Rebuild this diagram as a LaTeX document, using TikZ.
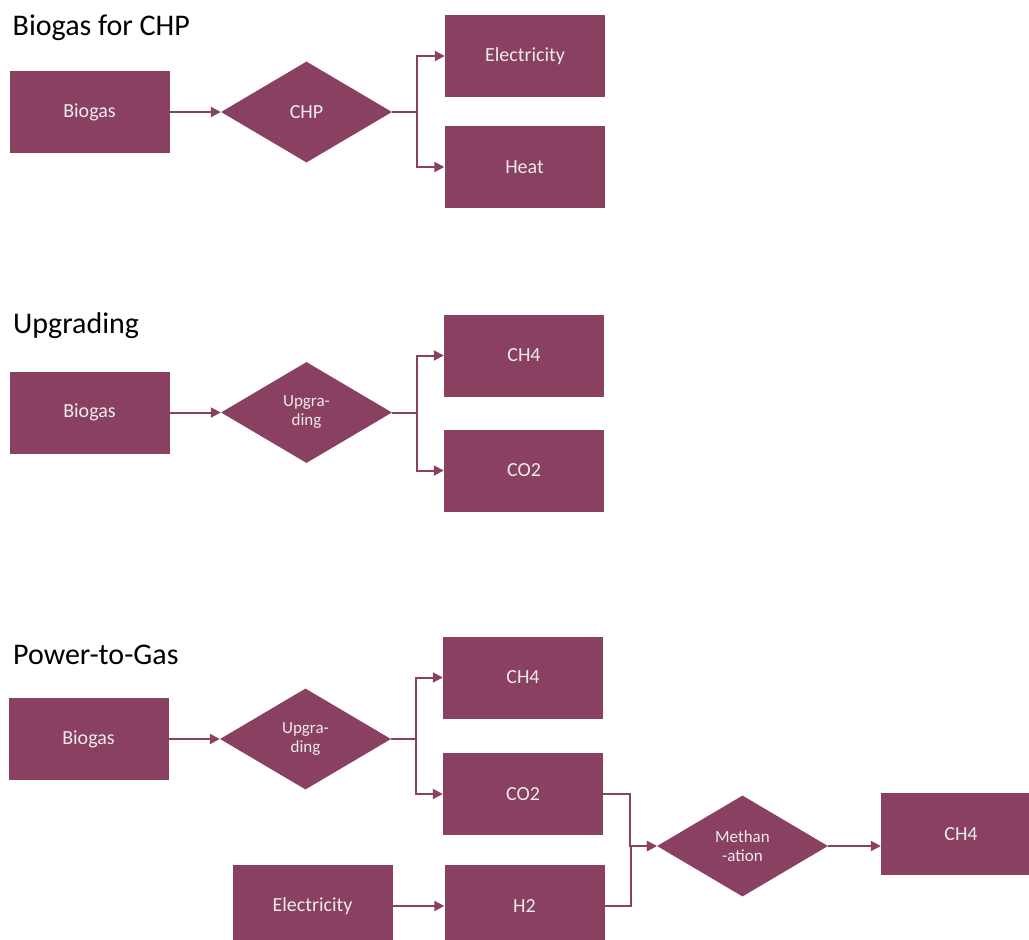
\documentclass[tikz,border=0pt]{standalone}
\usepackage{fontspec}
\setmainfont{Carlito}
\usepackage{xcolor}
\usepackage{tikz}
\usetikzlibrary{shapes.geometric, arrows.meta, positioning}

\definecolor{plum}{RGB}{138,64,96}

\begin{document}
\begin{tikzpicture}[
            x=1pt, y=-1pt,
            box/.style={rectangle, fill=plum, text=white!92!black, minimum width=160pt, minimum height=82pt, inner sep=0pt, font=\fontsize{20}{22}\selectfont},
            decision/.style={diamond, fill=plum, text=white!92!black, minimum width=171pt, minimum height=101pt, inner sep=0pt, align=center, font=\fontsize{17}{19}\selectfont},
            flow/.style={-{Triangle[length=10pt, width=10pt]}, draw=plum, line width=2pt},
            heading/.style={anchor=base west, inner sep=0pt, font=\fontsize{30}{32}\selectfont}
        ]

        \clip (0,0) rectangle (1029,940);

        % Biogas for CHP
        \node[heading] (t1) at (12.5,35) {Biogas for CHP};
        \node[box] (biogasA) at (89.5,112) {Biogas};
        \node[decision, font=\fontsize{20}{22}\selectfont] (chp) at (306.5,112) {CHP};
        \node[box] (elecA) at (525,56) {Electricity};
        \node[box] (heat) at (524.5,167) {Heat};

        \draw[flow] (biogasA) -- (chp);
        \draw[flow] (chp.east) -- ++(25,0) |- (elecA);
        \draw[flow] (chp.east) -- ++(25,0) |- (heat);

        % Upgrading
        \node[heading] (t2) at (13,333) {Upgrading};
        \node[box] (biogasB) at (89.5,412.5) {Biogas};
        \node[decision] (upgB) at (306.5,412.5) {Upgra-\\ding};
        \node[box] (ch4B) at (524,355.5) {CH4};
        \node[box] (co2B) at (524,470.5) {CO2};

        \draw[flow] (biogasB) -- (upgB);
        \draw[flow] (upgB.east) -- ++(25,0) |- (ch4B);
        \draw[flow] (upgB.east) -- ++(25,0) |- (co2B);

        % Power-to-Gas
        \node[heading] (t3) at (13,664) {Power-to-Gas};
        \node[box] (biogasC) at (88.5,739) {Biogas};
        \node[decision] (upgC) at (305.5,739) {Upgra-\\ding};
        \node[box] (ch4C) at (523,677.5) {CH4};
        \node[box] (co2C) at (523,794) {CO2};
        \node[box] (elecC) at (312.5,906) {Electricity};
        \node[box] (h2) at (524.5,906) {H2};
        \node[decision] (meth) at (742.5,846) {Methan\\-ation};
        \node[box] (ch4D) at (961,834) {CH4};

        \draw[flow] (biogasC) -- (upgC);
        \draw[flow] (upgC.east) -- ++(25,0) |- (ch4C);
        \draw[flow] (upgC.east) -- ++(25,0) |- (co2C);
        \draw[flow] (elecC) -- (h2);
        \draw[flow] (co2C.east) -- ++(27,0) |- (meth);
        \draw[flow] (h2.east) -- ++(26,0) |- (meth);
        \draw[flow] (meth.east) -- (meth.east -| ch4D.west);

    \end{tikzpicture}
\end{document}
